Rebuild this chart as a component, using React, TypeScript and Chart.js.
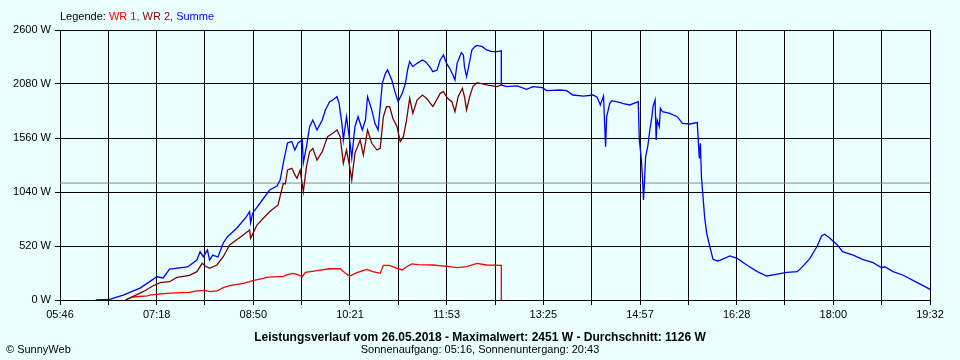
import React, { useEffect, useRef } from "react";
import { Chart, registerables } from "chart.js";
Chart.register(...registerables);

const seriesNames = ["WR 1", "WR 2", "Summe"];
const seriesColors = ["#ff0000", "#800000", "#0000ff"];
const xTickLabels = ["05:46", "07:18", "08:50", "10:21", "11:53", "13:25", "14:57", "16:28", "18:00", "19:32"];
const yTickValues = [0, 520, 1040, 1560, 2080, 2600];
const averageW = 1126;

const summeTimes = [
  "06:20","06:33","06:46","07:02","07:18","07:24","07:30","07:47","07:56","07:59",
  "08:02","08:06","08:08","08:11","08:16","08:21","08:25","08:34","08:43","08:46",
  "08:47","08:49","08:56","09:05","09:12","09:15","09:18","09:22","09:26","09:29",
  "09:32","09:36","09:37","09:40","09:43","09:46","09:50","09:55","09:58","10:02",
  "10:05","10:09","10:11","10:14","10:15","10:18","10:21","10:23","10:26","10:29",
  "10:33","10:36","10:38","10:42","10:45","10:48","10:52","10:55","10:57","11:01",
  "11:04","11:07","11:11","11:14","11:16","11:18","11:21","11:25","11:30","11:33",
  "11:37","11:40","11:44","11:47","11:50","11:53","11:56","11:59","12:01","12:03",
  "12:07","12:09","12:10","12:12","12:14","12:17","12:20","12:22","12:27","12:31",
  "12:36","12:41","12:45","12:45","12:50","13:00","13:09","13:15","13:24","13:28",
  "13:41","13:47","13:53","14:03","14:12","14:16","14:19","14:22","14:24","14:25",
  "14:28","14:30","14:38","14:41","14:47","14:55","14:56","14:58","14:59","15:00",
  "15:01","15:02","15:04","15:06","15:08","15:09","15:11","15:12","15:13","15:15",
  "15:16","15:18","15:25","15:32","15:37","15:44","15:51","15:52","15:53","15:54",
  "15:55","15:56","15:58","16:00","16:03","16:06","16:10","16:13","16:22","16:29",
  "16:38","16:48","16:57","17:07","17:16","17:26","17:31","17:38","17:45","17:49",
  "17:52","17:57","18:04","18:09","18:19","18:28","18:38","18:46","18:49","18:57",
  "19:06","19:20","19:32"
];
const summeValues = [
  0,6,48,115,224,212,298,318,385,465,
  417,481,385,433,414,549,610,693,802,850,
  744,838,934,1059,1098,1155,1319,1512,1525,1444,
  1512,1541,1319,1476,1669,1733,1637,1733,1830,1910,
  1926,1958,1894,1669,1541,1765,1541,1367,1669,1765,
  1637,1733,1958,1830,1701,1637,2087,2183,2215,2119,
  2006,1910,1990,2087,2215,2295,2247,2279,2311,2295,
  2247,2199,2215,2311,2360,2279,2231,2167,2119,2279,
  2382,2360,2247,2151,2247,2408,2440,2451,2440,2408,
  2392,2392,2399,2071,2055,2061,2029,2055,2045,2016,
  2022,2016,1974,1964,1974,1952,1878,1964,1476,1765,
  1894,1919,1900,1890,1878,1910,1547,1348,1187,963,
  1155,1380,1476,1637,1765,1862,1926,1541,1733,1669,
  1846,1813,1797,1765,1701,1695,1708,1541,1364,1509,
  1187,1059,800,642,513,392,376,385,424,401,
  337,273,231,250,267,273,321,401,520,616,
  633,594,530,465,433,392,359,311,320,273,
  241,167,103
];

const wr2Times = [
  "06:48","06:55","07:05","07:14","07:21","07:30","07:37","07:49","07:56","08:01",
  "08:04","08:08","08:15","08:21","08:27","08:40","08:46","08:47","08:53","08:59",
  "09:05","09:13","09:18","09:20","09:22","09:26","09:27","09:29","09:31","09:34",
  "09:37","09:40","09:43","09:46","09:50","09:55","10:00","10:05","10:09","10:12",
  "10:15","10:18","10:21","10:23","10:26","10:31","10:34","10:38","10:42","10:47",
  "10:50","10:53","10:56","10:59","11:02","11:06","11:09","11:12","11:15","11:18",
  "11:21","11:25","11:30","11:34","11:40","11:47","11:50","11:54","11:58","12:01",
  "12:04","12:08","12:10","12:12","12:15","12:18","12:22","12:31","12:41","12:45"
];
const wr2Values = [
  0,32,80,135,167,176,218,238,273,353,
  327,305,337,417,530,626,674,594,722,787,
  850,915,1124,1117,1252,1268,1252,1204,1172,1252,
  1043,1284,1428,1460,1348,1428,1573,1605,1637,1573,
  1316,1444,1284,1155,1412,1541,1396,1637,1509,1444,
  1460,1765,1862,1862,1750,1669,1525,1573,1733,1942,
  1797,1926,1974,1942,1862,1990,2006,1942,1910,1813,
  1958,2039,1958,1830,1958,2055,2093,2071,2055,2071
];

const wr1Times = [
  "06:48","06:55","07:09","07:11","07:30","07:49","07:56","08:04","08:08","08:15",
  "08:21","08:27","08:40","08:46","08:49","08:59","09:02","09:12","09:18","09:21",
  "09:27","09:31","09:36","09:39","09:50","10:02","10:12","10:17","10:21","10:28",
  "10:37","10:43","10:50","10:53","10:59","11:06","11:11","11:15","11:20","11:26",
  "11:40","11:56","12:03","12:12","12:22","12:31","12:45","12:45"
];
const wr1Values = [
  0,29,39,48,67,74,87,93,80,87,
  119,138,161,176,186,209,218,225,225,241,
  257,247,225,267,282,301,301,257,231,263,
  295,273,257,334,334,305,289,320,347,340,
  337,321,311,321,353,337,334,0
];

const FONT = '"Liberation Sans", Arial, sans-serif';
const toMin = (s: string) => { const [h, m] = s.split(":").map(Number); return h * 60 + m; };
const pts = (t: string[], v: number[]) => t.map((s, i) => ({ x: toMin(s), y: v[i] }));

const xMin = toMin(xTickLabels[0]);
const xMax = toMin(xTickLabels[xTickLabels.length - 1]);
const xSteps = (xTickLabels.length - 1) * 2;

const textPlugin = {
  id: "sunnyTexts",
  afterDraw(chart: any) {
    const ctx = chart.ctx;
    ctx.save();
    ctx.font = `11px ${FONT}`;
    ctx.textBaseline = "alphabetic";
    ctx.textAlign = "left";
    let x = 60;
    const parts: [string, string][] = [["Legende: ", "#000000"]];
    seriesNames.forEach((n, i) => parts.push([n + (i < seriesNames.length - 1 ? ", " : ""), seriesColors[i]]));
    parts.forEach(([t, c]) => { ctx.fillStyle = c; ctx.fillText(t, x, 20); x += ctx.measureText(t).width; });
    ctx.fillStyle = "#000000";
    ctx.fillText("\u00A9 SunnyWeb", 6, 353);
    ctx.textAlign = "center";
    ctx.font = `bold 12px ${FONT}`;
    ctx.fillText(`Leistungsverlauf vom 26.05.2018 - Maximalwert: ${Math.max(...summeValues)} W - Durchschnitt: ${averageW} W`, 480, 341);
    ctx.font = `11px ${FONT}`;
    ctx.fillText("Sonnenaufgang: 05:16, Sonnenuntergang: 20:43", 480, 353);
    ctx.restore();
  },
};

export default function App() {
  const ref = useRef<HTMLCanvasElement>(null);
  useEffect(() => {
    if (!ref.current) return;
    Chart.defaults.font.family = FONT;
    Chart.defaults.font.size = 11;
    Chart.defaults.color = "#000000";
    const chart = new Chart(ref.current, {
      type: "line",
      data: {
        datasets: [
          { label: seriesNames[2], data: pts(summeTimes, summeValues), borderColor: seriesColors[2], borderWidth: 1.3, pointRadius: 0, tension: 0, fill: false },
          { label: seriesNames[1], data: pts(wr2Times, wr2Values), borderColor: seriesColors[1], borderWidth: 1.3, pointRadius: 0, tension: 0, fill: false },
          { label: seriesNames[0], data: pts(wr1Times, wr1Values), borderColor: seriesColors[0], borderWidth: 1.3, pointRadius: 0, tension: 0, fill: false },
          { label: "avg", data: [{ x: xMin, y: averageW }, { x: xMax, y: averageW }], borderColor: "#8c8c8c", borderWidth: 1, pointRadius: 0, fill: false },
        ],
      },
      options: {
        responsive: false,
        animation: false,
        devicePixelRatio: 1,
        layout: { padding: { left: 0, right: 30, top: 30, bottom: 0 } },
        plugins: { legend: { display: false }, tooltip: { enabled: false }, title: { display: false } },
        scales: {
          x: {
            type: "linear",
            min: xMin,
            max: xMax,
            afterBuildTicks: (scale: any) => {
              const step = (xMax - xMin) / xSteps;
              scale.ticks = Array.from({ length: xSteps + 1 }, (_, i) => ({ value: xMin + i * step }));
            },
            afterFit: (scale: any) => { scale.height = 60; },
            ticks: {
              autoSkip: false,
              maxRotation: 0,
              padding: 3,
              callback: (_v: any, i: number) => (i % 2 === 0 ? xTickLabels[i / 2] : ""),
            },
            grid: { color: "#000000", lineWidth: 1, tickLength: 5, tickColor: "#000000" },
            border: { color: "#000000" },
          },
          y: {
            min: 0,
            max: yTickValues[yTickValues.length - 1],
            afterBuildTicks: (scale: any) => { scale.ticks = yTickValues.map((v) => ({ value: v })); },
            afterFit: (scale: any) => { scale.width = 60; },
            ticks: { padding: 4, callback: (v: any) => `${v} W` },
            grid: { color: "#000000", lineWidth: 1, tickLength: 5, tickColor: "#000000" },
            border: { color: "#000000" },
          },
        },
      },
      plugins: [textPlugin],
    } as any);
    return () => chart.destroy();
  }, []);
  return (
    <div style={{ position: "absolute", left: 0, top: 0, width: 960, height: 360, background: "#eaffff" }}>
      <canvas ref={ref} width={960} height={360} />
    </div>
  );
}
